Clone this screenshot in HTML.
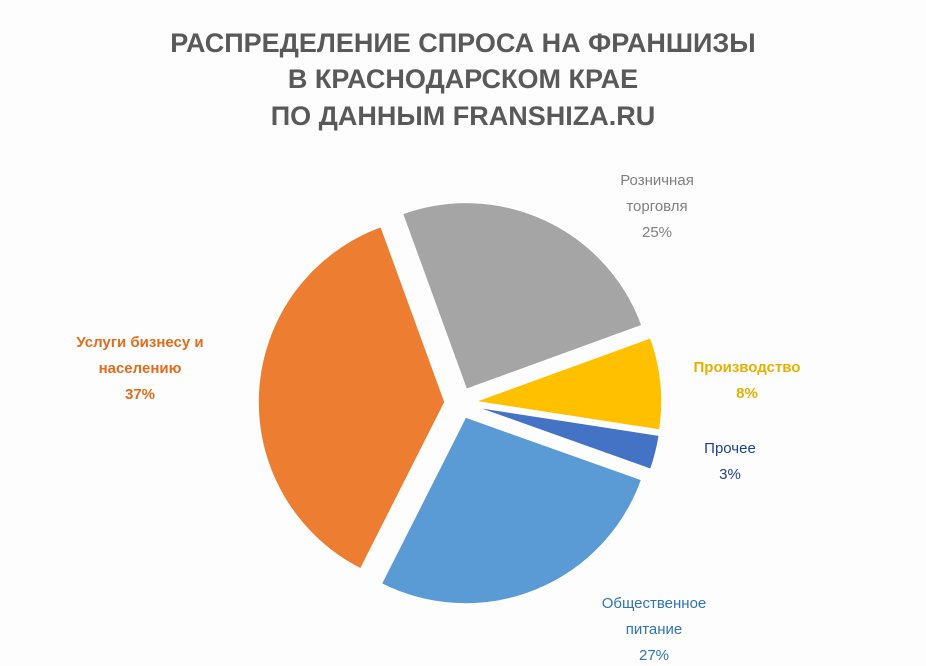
<!DOCTYPE html>
<html><head><meta charset="utf-8"><style>
body{margin:0;background:#fdfdfd;width:926px;height:666px;overflow:hidden;font-family:"Liberation Sans","DejaVu Sans",sans-serif}
svg{display:block}
</style></head><body>
<svg id="chart" width="926" height="666" xmlns="http://www.w3.org/2000/svg">
<g font-weight="bold" font-size="27" fill="#595959" text-anchor="middle">
<text x="463" y="52">РАСПРЕДЕЛЕНИЕ СПРОСА НА ФРАНШИЗЫ</text>
<text x="463" y="88">В КРАСНОДАРСКОМ КРАЕ</text>
<text x="463" y="125">ПО ДАННЫМ FRANSHIZA.RU</text>
</g>
<g id="slices"></g>
<g id="labels" font-size="15" text-anchor="middle"></g>
</svg>
<script>
const categories=["Розничная торговля","Производство","Прочее","Общественное питание","Услуги бизнесу и населению"];
const values=[25,8,3,27,37];
const colors=["#A5A5A5","#FFC000","#4472C4","#5B9BD5","#ED7D31"];
const labelColors=["#7f7f7f","#E6B000","#1F3F8F","#2E75B6","#E36C1A"];
const labelLines=[["Розничная","торговля"],["Производство"],["Прочее"],["Общественное","питание"],["Услуги бизнесу и","населению"]];
const labelPos=[[657,185],[747,372],[730,453],[654,608],[140,347]];
const bold=[false,true,false,false,true];
const cx=460,cy=403,R=187,off=15,startAngle=-20;
const ns="http://www.w3.org/2000/svg";
const total=values.reduce((a,b)=>a+b,0);
let a=startAngle;
const pt=(ang,r,ox,oy)=>{const t=ang*Math.PI/180;return [ox+r*Math.sin(t),oy-r*Math.cos(t)];};
values.forEach((v,i)=>{
  const sweep=v/total*360, mid=a+sweep/2;
  const [ox,oy]=pt(mid,off,cx,cy);
  const [x1,y1]=pt(a,R,ox,oy),[x2,y2]=pt(a+sweep,R,ox,oy);
  const p=document.createElementNS(ns,"path");
  p.setAttribute("d",`M${ox},${oy}L${x1},${y1}A${R},${R} 0 ${sweep>180?1:0} 1 ${x2},${y2}Z`);
  p.setAttribute("fill",colors[i]);
  p.setAttribute("stroke","#ffffff");p.setAttribute("stroke-width","1.5");
  
  
  document.getElementById("slices").appendChild(p);
  const g=document.createElementNS(ns,"text");
  
  
  g.setAttribute("fill",labelColors[i]);
  if(bold[i])g.setAttribute("font-weight","bold");
  const lines=labelLines[i].concat([v+"%"]);
  lines.forEach((l,k)=>{const s=document.createElementNS(ns,"tspan");s.setAttribute("x",labelPos[i][0]);s.setAttribute("y",labelPos[i][1]+k*26);s.textContent=l;g.appendChild(s);});
  document.getElementById("labels").appendChild(g);
  a+=sweep;
});
</script>
</body></html>
